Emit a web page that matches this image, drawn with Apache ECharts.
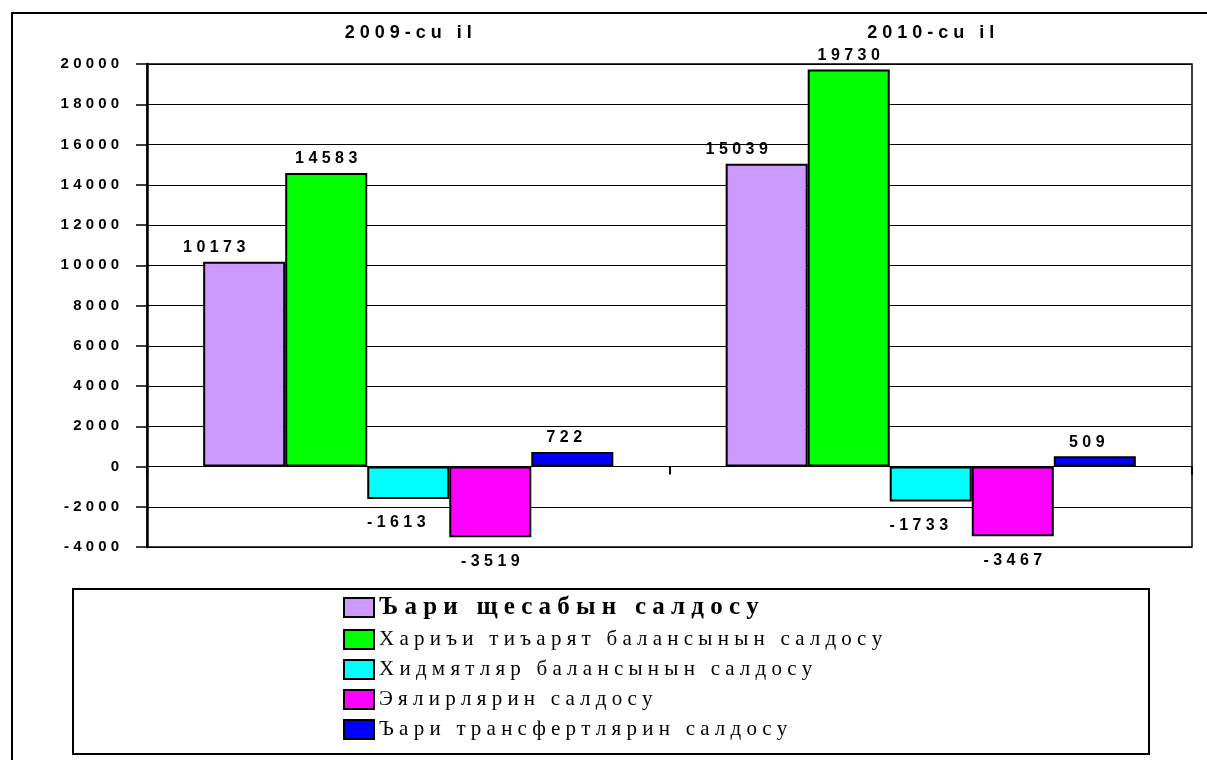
<!DOCTYPE html>
<html>
<head>
<meta charset="utf-8">
<script src="https://cdn.jsdelivr.net/npm/echarts@6/dist/echarts.min.js"></script>
<style>
html,body{margin:0;padding:0;background:#fff;}
#chart{width:1207px;height:760px;}
</style>
</head>
<body>
<div id="chart"></div>
<script>
const categories = ['2009-cu il', '2010-cu il'];
const seriesNames = [
  'Ъари щесабын салдосу',
  'Хариъи тиъарят балансынын салдосу',
  'Хидмятляр балансынын салдосу',
  'Эялирлярин салдосу',
  'Ъари трансфертлярин салдосу'
];
const cariHesab = [10173, 15039];
const xariciTicaret = [14583, 19730];
const xidmetler = [-1613, -1733];
const gelirler = [-3519, -3467];
const transfertler = [722, 509];
const colors = ['#CC99FF', '#00FF00', '#00FFFF', '#FF00FF', '#0000FF'];
const labelOffsets = [-30, 0, -12, 0, -8];
const yMin = -4000, yMax = 20000, yStep = 2000;

const spaced = t => String(t).split('').join(' ');
const spacedWords = t => String(t).split(' ').map(w => w.split('').join(' ')).join('   ');
const valuesList = [cariHesab, xariciTicaret, xidmetler, gelirler, transfertler];

const chart = echarts.init(document.getElementById('chart'));
const series = valuesList.map((vals, i) => ({
  name: seriesNames[i],
  type: 'bar',
  xAxisIndex: 0,
  barGap: '0%',
  barCategoryGap: '21.5%',
  itemStyle: { color: colors[i], borderColor: '#000', borderWidth: 2 },
  label: {
    show: true,
    position: 'top',
    distance: 6,
    offset: [labelOffsets[i], 0],
    color: '#000',
    fontFamily: 'Liberation Sans, Arial, sans-serif',
    fontWeight: 'bold',
    fontSize: 16,
    formatter: p => spaced(p.value)
  },
  data: vals.map(v => v < 0 ? { value: v, label: { position: 'bottom', distance: 16 } } : v)
}));

chart.setOption({
  animation: false,
  backgroundColor: '#fff',
  grid: { left: 147, right: 15, top: 64, bottom: 213, show: true, borderColor: '#000', borderWidth: 1.5 },
  xAxis: [
    {
      type: 'category', data: categories, position: 'top',
      axisLine: { show: false, onZero: false },
      axisTick: { show: false },
      axisLabel: {
        margin: 22, color: '#000', fontFamily: 'Liberation Sans, Arial, sans-serif',
        fontWeight: 'bold', fontSize: 18, formatter: v => spaced(v)
      }
    },
    {
      type: 'category', data: categories, position: 'bottom',
      axisLine: { show: true, onZero: true, lineStyle: { color: '#000', width: 1 } },
      axisTick: { show: true, length: 8, lineStyle: { color: '#000', width: 2 } },
      axisLabel: { show: false }
    }
  ],
  yAxis: {
    type: 'value', min: yMin, max: yMax, interval: yStep,
    axisLine: { show: true, lineStyle: { color: '#000', width: 2.5 } },
    axisTick: { show: true, length: 11, lineStyle: { color: '#000', width: 1.5 } },
    splitLine: { show: true, lineStyle: { color: '#000', width: 1.2 } },
    axisLabel: {
      margin: 28, color: '#000', fontFamily: 'Liberation Sans, Arial, sans-serif',
      fontWeight: 'bold', fontSize: 15, formatter: v => spaced(v)
    }
  },
  legend: {
    orient: 'vertical', left: 338, top: 590,
    itemWidth: 30, itemHeight: 19, itemGap: 9,
    icon: 'rect',
    itemStyle: { borderColor: '#000', borderWidth: 2 },
    formatter: n => spacedWords(n),
    textStyle: { color: '#000', fontFamily: 'Liberation Serif, Times New Roman, serif', fontSize: 21 },
    data: seriesNames.map((n, i) => i === 0
      ? { name: n, textStyle: { fontWeight: 'bold', fontSize: 25, lineHeight: 22 } }
      : { name: n })
  },
  graphic: [
    { type: 'rect', shape: { x: 12, y: 13, width: 1205, height: 760 }, style: { fill: 'none', stroke: '#000', lineWidth: 2 }, silent: true },
    { type: 'rect', shape: { x: 73, y: 589, width: 1076, height: 165 }, style: { fill: 'none', stroke: '#000', lineWidth: 2 }, silent: true }
  ],
  series: series
});
</script>
</body>
</html>
